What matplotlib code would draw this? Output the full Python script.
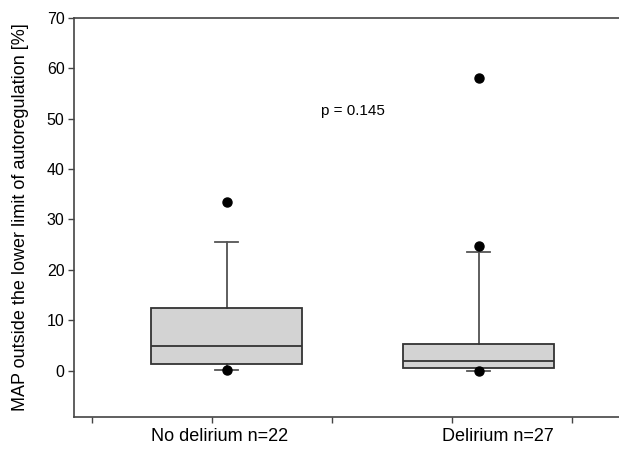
#!/usr/bin/env python3
"""Box plot: MAP outside the lower limit of autoregulation, delirium vs no delirium."""

import matplotlib
matplotlib.use("Agg")
import matplotlib.pyplot as plt

plt.rcParams["font.family"] = ["Liberation Sans", "DejaVu Sans"]

GROUPS = ["No delirium n=22", "Delirium n=27"]
# box stats (percent)
Q1 = [1.3, 0.5]
MEDIAN = [4.8, 1.9]
Q3 = [12.4, 5.2]
WHISK_LO = [0.15, 0.0]
WHISK_HI = [25.6, 23.5]
OUTLIERS = [[33.4, 0.1], [58.0, 24.8, 0.0]]
P_TEXT = "p = 0.145"

EDGE = "#333333"


def plot():
    fig = plt.figure(figsize=(6.19, 4.65), dpi=100)
    ax = fig.add_axes([74.3 / 619, 1 - 417 / 465, 1 - 74.3 / 619, (417 - 17.8) / 465])

    stats = []
    for i, name in enumerate(GROUPS):
        stats.append({
            "label": name,
            "q1": Q1[i], "med": MEDIAN[i], "q3": Q3[i],
            "whislo": WHISK_LO[i], "whishi": WHISK_HI[i],
            "fliers": OUTLIERS[i],
        })

    ax.bxp(
        stats, positions=[1, 2], widths=0.6, capwidths=0.09,
        patch_artist=True, showfliers=True,
        boxprops=dict(facecolor="#d3d3d3", edgecolor=EDGE, linewidth=1.3),
        medianprops=dict(color=EDGE, linewidth=1.3),
        whiskerprops=dict(color=EDGE, linewidth=1.1),
        capprops=dict(color="#555555", linewidth=1.3),
        flierprops=dict(marker="o", markerfacecolor="black",
                        markeredgecolor="black", markersize=6.5),
        zorder=3,
    )

    ax.set_xlim(0.396, 2.557)
    ax.set_ylim(-9.2, 70)
    ax.set_yticks(range(0, 71, 10))
    ax.set_xticks([0.466, 0.942, 1.418, 1.894, 2.37])
    ax.set_xticklabels([])

    for s in ["left", "bottom", "top"]:
        ax.spines[s].set_color("#444444")
        ax.spines[s].set_linewidth(1.2)
    ax.spines["right"].set_visible(False)
    ax.tick_params(axis="both", direction="out", length=4, width=1,
                   color="#444444", labelsize=11.5, pad=3)

    # group names sit a little off the box centres in the original
    label_x = [1.0 - 6.9 / 252, 2.0 + 19.2 / 252]
    for xpos, name in zip(label_x, GROUPS):
        ax.text(xpos, -0.05, name, transform=ax.get_xaxis_transform(),
                ha="center", va="center", fontsize=13)

    ax.text(1.502, 51.6, P_TEXT, ha="center", va="center", fontsize=11)
    ax.set_ylabel("MAP outside the lower limit of autoregulation [%]", fontsize=13)
    ax.yaxis.set_label_coords(-0.083, 0.5)

    fig.savefig("out.png", dpi=100)


if __name__ == "__main__":
    plot()
